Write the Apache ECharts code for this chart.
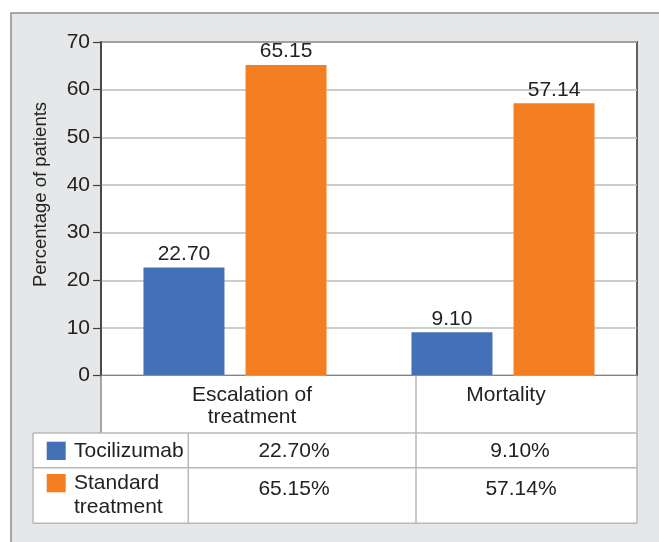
<!DOCTYPE html>
<html>
<head>
<meta charset="utf-8">
<script src="https://cdn.jsdelivr.net/npm/echarts@6/dist/echarts.min.js"></script>
<style>
  html, body { margin: 0; padding: 0; background: #ffffff; }
  #chart { width: 659px; height: 542px; }
</style>
</head>
<body>
<div id="chart"></div>
<script>
// Outcomes by treatment arm (percentage of patients)
const categories = ['Escalation of\ntreatment', 'Mortality'];
const seriesNames = ['Tocilizumab', 'Standard\ntreatment'];
const tocilizumab = [22.70, 9.10];
const standardTreatment = [65.15, 57.14];
const yTicks = { min: 0, max: 70, interval: 10 };
const yTitle = 'Percentage of patients';

const FONT = '"Liberation Sans", Arial, Helvetica, sans-serif';
const TEXT = '#222222';
const BLUE = '#4470B7';
const ORANGE = '#F47F22';
const RULE = '#b8b8b8';

const chart = echarts.init(document.getElementById('chart'), null, { renderer: 'canvas' });

// plot frame
const gridL = 101, gridT = 42, gridR = 637, gridB = 375.7;

// data table geometry
const rowTop = 433, rowMid = 467.7, rowBot = 523.3;
const tableL = 33, legendColR = 188.3, colDiv = 416;

function line(x1, y1, x2, y2, color, w) {
  return { type: 'line', z: 5, silent: true,
    shape: { x1, y1, x2, y2 },
    style: { stroke: color, lineWidth: w || 1.5 } };
}
function text(str, x, y, align, size) {
  return { type: 'text', z: 6, silent: true, x, y,
    style: { text: str, fill: TEXT, font: (size || 21) + 'px ' + FONT,
      textAlign: align || 'center', textVerticalAlign: 'middle', lineHeight: 22 } };
}
function pct(v) { return v.toFixed(2) + '%'; }

const seriesValues = [tocilizumab, standardTreatment];
const colors = [BLUE, ORANGE];

const graphics = [
  // grey outer panel
  { type: 'rect', z: -10, silent: true,
    shape: { x: 11, y: 13, width: 700, height: 560 },
    style: { fill: '#E6E7E8', stroke: '#8f8f8f', lineWidth: 1.5 } },
  // white area under the plot holding category labels
  { type: 'rect', z: 4, silent: true,
    shape: { x: gridL, y: gridB, width: gridR - gridL, height: rowTop - gridB },
    style: { fill: '#ffffff' } },
  // white data table body
  { type: 'rect', z: 4, silent: true,
    shape: { x: tableL, y: rowTop, width: gridR - tableL, height: rowBot - rowTop },
    style: { fill: '#ffffff' } },
  line(gridL, gridB, gridL, rowTop, '#8a8a8a'),
  line(colDiv, gridB, colDiv, rowBot, RULE),
  line(gridR, gridB, gridR, rowBot, RULE),
  line(tableL, rowTop, gridR, rowTop, RULE),
  line(tableL, rowMid, gridR, rowMid, RULE),
  line(tableL, rowBot, gridR, rowBot, RULE),
  line(tableL, rowTop, tableL, rowBot, RULE),
  line(legendColR, rowTop, legendColR, rowBot, RULE),
  // y-axis title
  { type: 'text', z: 6, silent: true, x: 40.5, y: 194.5, rotation: Math.PI / 2,
    style: { text: yTitle, fill: TEXT, font: '18.5px ' + FONT,
      textAlign: 'center', textVerticalAlign: 'middle' } },
  // category headers
  text(categories[0], 252, 406.5),
  text(categories[1], 506, 395.5),
  // legend swatches + names
  { type: 'rect', z: 6, silent: true, shape: { x: 46.7, y: 441.7, width: 19, height: 18.3 }, style: { fill: BLUE } },
  { type: 'rect', z: 6, silent: true, shape: { x: 46.7, y: 474, width: 19, height: 18.3 }, style: { fill: ORANGE } },
  text(seriesNames[0], 74, 451.7, 'left'),
  { type: 'text', z: 6, silent: true, x: 74, y: 495.3,
    style: { text: seriesNames[1], fill: TEXT, font: '21px ' + FONT,
      textAlign: 'left', textVerticalAlign: 'middle', lineHeight: 24 } },
  // table values
  text(pct(tocilizumab[0]), 294, 451.7),
  text(pct(tocilizumab[1]), 520, 451.7),
  text(pct(standardTreatment[0]), 294, 489),
  text(pct(standardTreatment[1]), 521, 489)
];

chart.setOption({
  animation: false,
  backgroundColor: 'transparent',
  textStyle: { fontFamily: FONT },
  grid: {
    left: gridL, top: gridT, right: 659 - gridR, bottom: 542 - gridB,
    containLabel: false, show: true, backgroundColor: '#ffffff',
    borderColor: '#505050', borderWidth: 1.8
  },
  xAxis: {
    type: 'category',
    data: categories,
    axisLine: { show: true, lineStyle: { color: '#404040', width: 1.5 } },
    axisTick: { show: false },
    axisLabel: { show: false },
    splitLine: { show: false }
  },
  yAxis: {
    type: 'value',
    min: yTicks.min, max: yTicks.max, interval: yTicks.interval,
    axisLine: { show: true, lineStyle: { color: '#404040', width: 1.5 } },
    axisTick: { show: true, length: 8, lineStyle: { color: '#404040', width: 1.2 } },
    axisLabel: { fontSize: 21, color: TEXT, margin: 11, fontFamily: FONT },
    splitLine: { show: true, lineStyle: { color: '#bdbdbd', width: 1.5 } }
  },
  series: seriesValues.map((vals, i) => ({
    name: seriesNames[i],
    type: 'bar',
    data: vals,
    barWidth: 81,
    barGap: '26%',
    itemStyle: { color: colors[i] },
    label: {
      show: true, position: 'top', distance: 3,
      fontSize: 21, color: TEXT, fontFamily: FONT,
      formatter: p => p.value.toFixed(2)
    }
  })),
  graphic: graphics
});
</script>
</body>
</html>
